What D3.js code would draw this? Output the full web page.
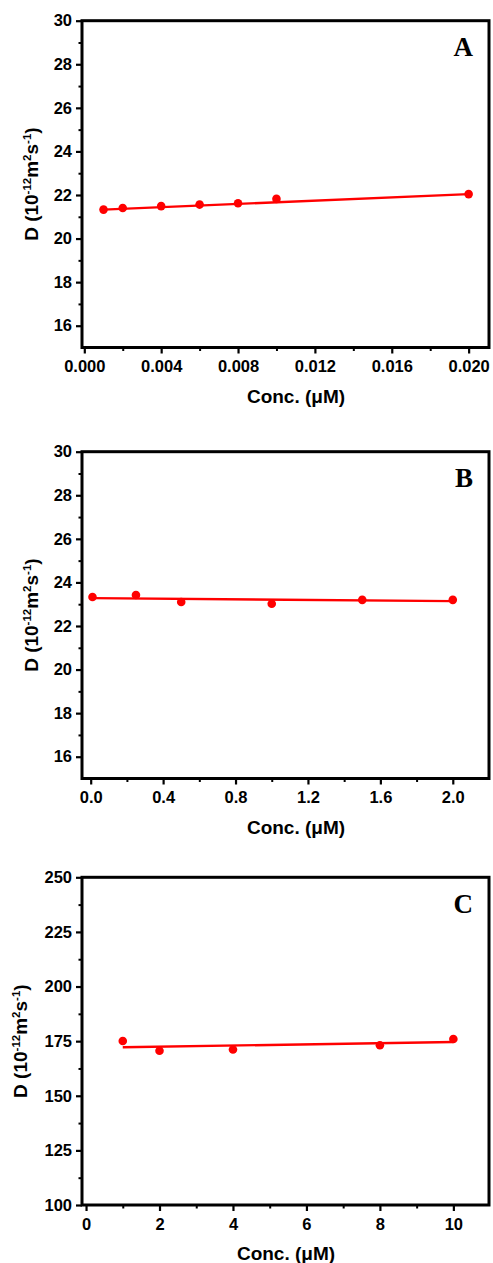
<!DOCTYPE html>
<html>
<head>
<meta charset="utf-8">
<script src="https://cdn.jsdelivr.net/npm/d3@7"></script>
<style>
  body { margin: 0; background: #fff; }
  svg { display: block; }
  .tick text { font-family: "Liberation Sans", Arial, sans-serif; font-weight: bold; font-size: 16.5px; fill: #000; }
</style>
</head>
<body>
<svg id="chart" width="493" height="1263"></svg>
<script>
// panel A
let concA = [0.001, 0.002, 0.004, 0.006, 0.008, 0.010, 0.020];
let diffA = [21.33, 21.40, 21.49, 21.56, 21.62, 21.82, 22.04];
let fitA = [[0.001, 21.33], [0.020, 22.04]];
let xTicksA = [0, 0.004, 0.008, 0.012, 0.016, 0.020];
let xMinorA = [0.002, 0.006, 0.010, 0.014, 0.018];
let yTicksA = [16, 18, 20, 22, 24, 26, 28, 30];
let yMinorA = [17, 19, 21, 23, 25, 27, 29];

// panel B
let concB = [0.01, 0.25, 0.5, 1.0, 1.5, 2.0];
let diffB = [23.33, 23.42, 23.10, 23.02, 23.20, 23.20];
let fitB = [[0.01, 23.28], [2.0, 23.14]];
let xTicksB = [0, 0.4, 0.8, 1.2, 1.6, 2.0];
let xMinorB = [0.2, 0.6, 1.0, 1.4, 1.8];
let yTicksB = [16, 18, 20, 22, 24, 26, 28, 30];
let yMinorB = [17, 19, 21, 23, 25, 27, 29];

// panel C
let concC = [1, 2, 4, 8, 10];
let diffC = [175.1, 170.6, 171.2, 173.1, 176.0];
let fitC = [[1, 172.2], [10, 174.6]];
let xTicksC = [0, 2, 4, 6, 8, 10];
let xMinorC = [1, 3, 5, 7, 9];
let yTicksC = [100, 125, 150, 175, 200, 225, 250];
let yMinorC = [112.5, 137.5, 162.5, 187.5, 212.5, 237.5];

let panels = [
  { tag: "A", conc: concA, diff: diffA, fit: fitA, xDomain: [-0.00012, 0.02106], yDomain: [15, 30],
    xTicks: xTicksA, xMinor: xMinorA, yTicks: yTicksA, yMinor: yMinorA, xFmt: ".3f",
    top: 20.7, bottom: 347.5, titleX: 38, xTitleCx: 296 },
  { tag: "B", conc: concB, diff: diffB, fit: fitB, xDomain: [-0.048, 2.2], yDomain: [15, 30],
    xTicks: xTicksB, xMinor: xMinorB, yTicks: yTicksB, yMinor: yMinorB, xFmt: ".1f",
    top: 451.7, bottom: 778.5, titleX: 38, xTitleCx: 296 },
  { tag: "C", conc: concC, diff: diffC, fit: fitC, xDomain: [-0.11, 10.97], yDomain: [100, 250],
    xTicks: xTicksC, xMinor: xMinorC, yTicks: yTicksC, yMinor: yMinorC, xFmt: "d",
    top: 877.3, bottom: 1205, titleX: 27, xTitleCx: 286 }
];

let left = 82, right = 489;
let svg = d3.select("#chart");
let font = '"Liberation Sans", Arial, sans-serif';

panels.forEach((p) => {
  let x = d3.scaleLinear().domain(p.xDomain).range([left, right]);
  let y = d3.scaleLinear().domain(p.yDomain).range([p.bottom, p.top]);
  let g = svg.append("g");

  // minor ticks first
  g.append("g")
    .attr("transform", "translate(0," + p.bottom + ")")
    .call(d3.axisBottom(x).tickValues(p.xMinor).tickSize(3.5).tickFormat(""))
    .call((a) => { a.select(".domain").remove(); a.selectAll("line").attr("stroke-width", 2); });
  g.append("g")
    .attr("transform", "translate(" + left + ",0)")
    .call(d3.axisLeft(y).tickValues(p.yMinor).tickSize(3.5).tickFormat(""))
    .call((a) => { a.select(".domain").remove(); a.selectAll("line").attr("stroke-width", 2); });

  // major ticks + labels
  g.append("g")
    .attr("transform", "translate(0," + p.bottom + ")")
    .call(d3.axisBottom(x).tickValues(p.xTicks).tickSize(6).tickPadding(7).tickFormat(d3.format(p.xFmt)))
    .call((a) => { a.select(".domain").remove(); a.selectAll("line").attr("stroke-width", 2.2); });
  g.append("g")
    .attr("transform", "translate(" + left + ",0)")
    .call(d3.axisLeft(y).tickValues(p.yTicks).tickSize(6).tickPadding(4))
    .call((a) => { a.select(".domain").remove(); a.selectAll("line").attr("stroke-width", 2.2); });

  // frame
  g.append("rect")
    .attr("x", left).attr("y", p.top)
    .attr("width", right - left).attr("height", p.bottom - p.top)
    .attr("fill", "none").attr("stroke", "#000").attr("stroke-width", 3);

  // fit line
  g.append("path")
    .datum(p.fit)
    .attr("d", d3.line().x((d) => x(d[0])).y((d) => y(d[1])))
    .attr("fill", "none").attr("stroke", "#ff0000").attr("stroke-width", 2.4);

  // points
  g.selectAll("circle.pt")
    .data(p.conc)
    .enter()
    .append("circle")
    .attr("class", "pt")
    .attr("cx", (d) => x(d))
    .attr("cy", (d, i) => y(p.diff[i]))
    .attr("r", 4.3)
    .attr("fill", "#ff0000");

  // panel tag
  g.append("text")
    .attr("x", 473).attr("y", p.top + 35.5)
    .attr("text-anchor", "end")
    .attr("font-family", '"Liberation Serif", "Times New Roman", serif')
    .attr("font-weight", "bold").attr("font-size", 27)
    .text(p.tag);

  // x title
  g.append("text")
    .attr("x", p.xTitleCx).attr("y", p.bottom + 55)
    .attr("text-anchor", "middle")
    .attr("font-family", font).attr("font-weight", "bold").attr("font-size", 19)
    .text("Conc. (μM)");

  // y title with superscripts
  let cy = (p.top + p.bottom) / 2;
  let yt = g.append("text")
    .attr("transform", "translate(" + p.titleX + "," + cy + ") rotate(-90)")
    .attr("text-anchor", "middle")
    .attr("font-family", font).attr("font-weight", "bold").attr("font-size", 19);
  yt.append("tspan").text("D (10");
  yt.append("tspan").attr("font-size", 11.5).attr("dy", -7.5).text("-12");
  yt.append("tspan").attr("dy", 7.5).text("m");
  yt.append("tspan").attr("font-size", 11.5).attr("dy", -7.5).text("2");
  yt.append("tspan").attr("dy", 7.5).text("s");
  yt.append("tspan").attr("font-size", 11.5).attr("dy", -7.5).text("-1");
  yt.append("tspan").attr("dy", 7.5).text(")");
});
</script>
</body>
</html>
